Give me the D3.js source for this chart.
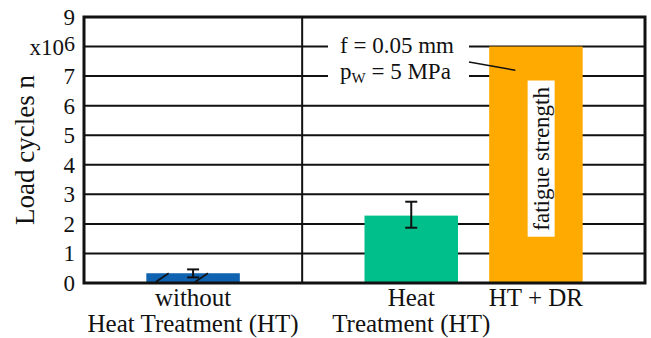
<!DOCTYPE html>
<html>
<head>
<meta charset="utf-8">
<script src="https://cdn.jsdelivr.net/npm/d3@7"></script>
<style>
  body { margin: 0; background: #fff; }
  text { font-family: "Liberation Serif", "Times New Roman", serif; fill: #111; }
</style>
</head>
<body>
<script>
// groups of bars, split by the vertical divider
const leftCategories = ["without HT"];
const rightCategories = ["Heat Treatment", "HT + DR"];
const values = { "without HT": 0.33, "Heat Treatment": 2.28, "HT + DR": 8.0 };
const errLow = { "without HT": 0.19, "Heat Treatment": 1.87 };
const errHigh = { "without HT": 0.46, "Heat Treatment": 2.75 };
const barColors = { "without HT": "#0f63b0", "Heat Treatment": "#00bf8b", "HT + DR": "#ffaa00" };
const xLabels = {
  "without HT": ["without", "Heat Treatment (HT)"],
  "Heat Treatment": ["Heat", "Treatment (HT)"],
  "HT + DR": ["HT + DR"]
};
const yTicks = [0, 1, 2, 3, 4, 5, 6, 7, 8, 9];

const width = 651, height = 338;
const margin = { top: 17, right: 6, bottom: 55, left: 84 };

const svg = d3
  .select("body")
  .append("svg")
  .attr("width", width)
  .attr("height", height);

const y = d3.scaleLinear().domain([0, 9]).range([height - margin.bottom, margin.top]);

// split the plot width into steps, each group takes n + 0.75 steps
const pIn = 0.25, pOut = 0.5;
const leftSteps = leftCategories.length - pIn + 2 * pOut;
const rightSteps = rightCategories.length - pIn + 2 * pOut;
const xs = d3.scaleLinear().domain([0, leftSteps + rightSteps]).range([margin.left, width - margin.right]);

const xLeft = d3.scaleBand().domain(leftCategories)
  .range([xs(0), xs(leftSteps)]).paddingInner(pIn).paddingOuter(pOut);
const xRight = d3.scaleBand().domain(rightCategories)
  .range([xs(leftSteps), xs(leftSteps + rightSteps)]).paddingInner(pIn).paddingOuter(pOut);
const xPos = (c) => (leftCategories.includes(c) ? xLeft(c) : xRight(c));
const bw = xLeft.bandwidth();

const x0 = xs.range()[0], x1 = xs.range()[1];

// grid lines
svg
  .selectAll("line.grid")
  .data(yTicks.slice(1, -1))
  .enter()
  .append("line")
  .attr("x1", x0)
  .attr("x2", x1)
  .attr("y1", (d) => y(d))
  .attr("y2", (d) => y(d))
  .attr("stroke", "#111")
  .attr("stroke-width", 2);

// annotation box (white behind text)
const note = svg.append("g");
const noteRect = note.append("rect").attr("fill", "#fff");
const t1 = note
  .append("text")
  .attr("x", 340)
  .attr("y", y(8) + 6)
  .attr("font-size", 23)
  .text("f = 0.05 mm");
const t2 = note
  .append("text")
  .attr("x", 340)
  .attr("y", y(7) + 3)
  .attr("font-size", 23);
t2.append("tspan").text("p");
t2.append("tspan").attr("font-size", 15).attr("dy", 4).text("W");
t2.append("tspan").attr("dy", -4).text(" = 5 MPa");
const b1 = t1.node().getBBox(), b2 = t2.node().getBBox();
const nx0 = Math.min(b1.x, b2.x) - 12, nx1 = Math.max(b1.x + b1.width, b2.x + b2.width) + 15;
noteRect
  .attr("x", nx0)
  .attr("y", b1.y - 4)
  .attr("width", nx1 - nx0)
  .attr("height", b2.y + b2.height - b1.y + 6);

// bars
const allCats = leftCategories.concat(rightCategories);
svg
  .selectAll("rect.bar")
  .data(allCats)
  .enter()
  .append("rect")
  .attr("x", (c) => xPos(c))
  .attr("width", bw)
  .attr("y", (c) => y(values[c]))
  .attr("height", (c) => y(0) - y(values[c]))
  .attr("fill", (c) => barColors[c]);

// leader line from the note into the tall bar
svg
  .append("line")
  .attr("x1", nx1)
  .attr("y1", y(7.48))
  .attr("x2", xPos("HT + DR") + bw * 0.28)
  .attr("y2", y(7.2))
  .attr("stroke", "#111")
  .attr("stroke-width", 1.5);

// break marks on the short bar
const bx = xPos("without HT");
[0.1, 0.52].forEach((f) => {
  svg
    .append("line")
    .attr("x1", bx + bw * f)
    .attr("y1", y(0) - 1)
    .attr("x2", bx + bw * f + 13)
    .attr("y2", y(values["without HT"]))
    .attr("stroke", "#111")
    .attr("stroke-width", 1.6);
});

// error bars
const errCats = Object.keys(errLow);
errCats.forEach((c) => {
  const cx = xPos(c) + bw / 2;
  const g = svg.append("g").attr("stroke", "#111").attr("stroke-width", 2);
  g.append("line").attr("x1", cx).attr("x2", cx).attr("y1", y(errLow[c])).attr("y2", y(errHigh[c]));
  [errLow[c], errHigh[c]].forEach((v) => {
    g.append("line").attr("x1", cx - 6).attr("x2", cx + 6).attr("y1", y(v)).attr("y2", y(v));
  });
});

// fatigue strength label
const fx = xPos("HT + DR") + bw * 0.55, fy = y(4.2);
const fl = svg.append("g").attr("transform", `translate(${fx},${fy}) rotate(-90)`);
const fRect = fl.append("rect").attr("fill", "#fff");
const fText = fl
  .append("text")
  .attr("text-anchor", "middle")
  .attr("dy", "0.35em")
  .attr("font-size", 23)
  .text("fatigue strength");
const fb = fText.node().getBBox();
fRect.attr("x", fb.x - 6).attr("y", fb.y - 1).attr("width", fb.width + 12).attr("height", fb.height + 2);

// divider
svg
  .append("line")
  .attr("x1", xs(leftSteps))
  .attr("x2", xs(leftSteps))
  .attr("y1", y(9))
  .attr("y2", y(0))
  .attr("stroke", "#111")
  .attr("stroke-width", 2);

// frame
svg
  .append("rect")
  .attr("x", x0)
  .attr("y", y(9))
  .attr("width", x1 - x0)
  .attr("height", y(0) - y(9))
  .attr("fill", "none")
  .attr("stroke", "#111")
  .attr("stroke-width", 3);

// y tick labels
svg
  .selectAll("text.ytick")
  .data(yTicks)
  .enter()
  .append("text")
  .attr("class", "ytick")
  .attr("x", x0 - 9)
  .attr("y", (d) => y(d))
  .attr("dy", "0.35em")
  .attr("text-anchor", "end")
  .attr("font-size", 23)
  .each(function (d) {
    const t = d3.select(this);
    if (d === 8) {
      t.append("tspan").text("x10");
      t.append("tspan").attr("dy", -4).attr("font-size", 22).text("6");
    } else {
      t.text(d);
    }
  });

// y title
svg
  .append("text")
  .attr("transform", `translate(25,${(y(0) + y(9)) / 2}) rotate(-90)`)
  .attr("text-anchor", "middle")
  .attr("dy", "0.35em")
  .attr("font-size", 27)
  .text("Load cycles n");

// x labels
allCats.forEach((c) => {
  const cx = xPos(c) + bw / 2;
  xLabels[c].forEach((line, i) => {
    svg
      .append("text")
      .attr("x", cx)
      .attr("y", y(0) + 23 + i * 26)
      .attr("text-anchor", "middle")
      .attr("font-size", 25)
      .text(line);
  });
});
</script>
</body>
</html>
